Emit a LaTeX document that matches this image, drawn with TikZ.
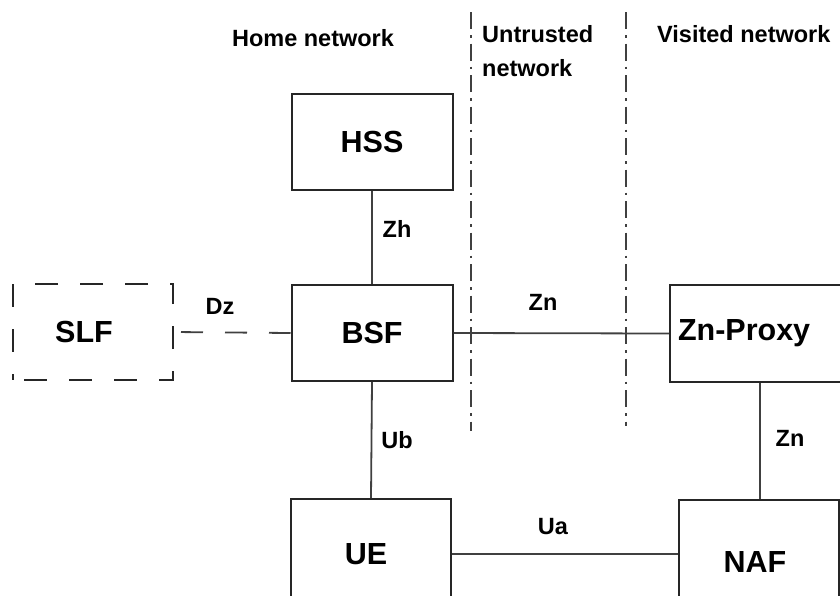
\documentclass[tikz,border=0pt]{standalone}
\usepackage{fontspec}
\setmainfont{Liberation Sans}
\begin{document}
\begin{tikzpicture}[x=1pt,y=-1pt,
  box/.style={draw=black!85, line width=2pt, rectangle, inner sep=0pt,
    font=\fontsize{30.5}{36}\selectfont\bfseries},
  lbl/.style={font=\fontsize{23.5}{27}\selectfont\bfseries, inner sep=0pt},
  conn/.style={draw=black!75, line width=1.8pt},
  dconn/.style={conn, dash pattern=on 22pt off 22pt, dash phase=37pt},
  border/.style={draw=black!75, line width=1.6pt, dash pattern=on 17pt off 6pt on 2.5pt off 6pt}]
\useasboundingbox (0,0) rectangle (840,595);
\clip (0,0) rectangle (840,595);
% boxes
\node[box, minimum width=161pt, minimum height=96pt] (HSS) at (372,141.5) {HSS};
\node[box, minimum width=161pt, minimum height=96pt] (BSF) at (372,333) {BSF};
\node[box, minimum width=160pt, minimum height=96pt, dash pattern=on 23pt off 22pt, dash phase=-11pt] (SLF) at (93,332) {\hspace*{-18pt}SLF};
\node[box, minimum width=160pt, minimum height=110pt] (UE) at (371,554) {\hspace*{-10pt}UE};
\node[box, minimum width=180pt, minimum height=97pt, text width=164pt, align=left, inner xsep=8pt] (ZP) at (760,333.5) {Zn-Proxy};
\node[box, minimum width=160pt, minimum height=124pt] (NAF) at (759,562) {\hspace*{-8pt}NAF};
% connectors
\draw[conn] (HSS.south) -- (BSF.north);
\draw[conn] (BSF.south) -- (UE.north);
\draw[dconn] (SLF.east) -- (BSF.west);
\draw[conn] (BSF.east) -- (ZP.west);
\draw[conn] (ZP.south) -- (ZP.south |- NAF.north);
\draw[conn] (UE.east) -- (UE.east -| NAF.west);
% connector labels
\node[lbl] (lZh) at (397,229) {Zh};
\node[lbl] (lUb) at (397,440) {Ub};
\node[lbl] (lDz) at (220,306) {Dz};
\node[lbl] (lZn1) at (543,302) {Zn};
\node[lbl] (lZn2) at (790,438) {Zn};
\node[lbl] (lUa) at (553,527) {Ua};
% domain borders
\coordinate (b1t) at (471,12);
\coordinate (b1b) at (471,431);
\coordinate (b2t) at (626,12);
\coordinate (b2b) at (626,426);
\draw[border] (b1t) -- (b1b);
\draw[border] (b2t) -- (b2b);
% domain titles
\node[lbl, anchor=center] (home) at (313,38) {Home network};
\node[lbl, anchor=north west, align=left, font=\fontsize{23.5}{34}\selectfont\bfseries] (untr) at (482,25) {Untrusted\\network};
\node[lbl, anchor=west] (vis) at (657,34) {Visited network};
\end{tikzpicture}
\end{document}
